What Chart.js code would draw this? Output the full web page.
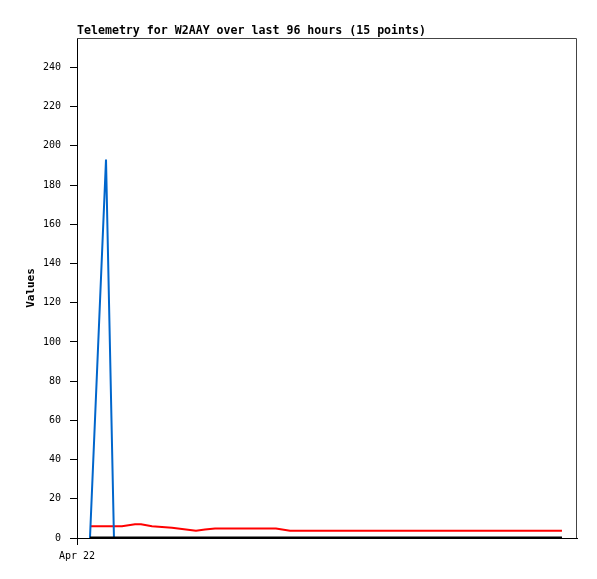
<!DOCTYPE html>
<html>
<head>
<meta charset="utf-8">
<script src="https://cdn.jsdelivr.net/npm/chart.js@4"></script>
<style>
  html, body { margin: 0; padding: 0; background: #fff; }
  #wrap { width: 597px; height: 579px; }
</style>
</head>
<body>
<div id="wrap"><canvas id="telemetry_chart" width="597" height="579"></canvas></div>
<script>
// hours since Apr 22 00:00
var hours = [2.64, 5.90, 7.52, 9.15, 11.80, 13.02, 15.25, 19.32, 24.20, 26.03, 28.07, 40.47, 43.32, 69.76, 98.64];
var blueValues = [0, 193, 0, 0, 0, 0, 0, 0, 0, 0, 0, 0, 0, 0, 0];
var redValues = [6, 6, 6, 6, 7, 7, 6, 5.2, 3.7, 4.3, 4.9, 4.9, 3.7, 3.7, 3.7];
var blackValues = [0, 0, 0, 0, 0, 0, 0, 0, 0, 0, 0, 0, 0, 0, 0];
var yTicks = [0, 20, 40, 60, 80, 100, 120, 140, 160, 180, 200, 220, 240];
var xTickLabels = ['Apr 22'];

function pts(vals) {
  return vals.map(function (v, i) { return { x: hours[i], y: v }; });
}

var chartTitle = 'Telemetry for W2AAY over last 96 hours (15 points)';

var frameAndTitle = {
  id: 'frameAndTitle',
  beforeDatasetsDraw: function (chart) {
    var a = chart.chartArea, c = chart.ctx;
    c.save();
    c.strokeStyle = '#444';
    c.lineWidth = 1;
    c.beginPath();
    c.moveTo(a.left, a.top + 0.5);
    c.lineTo(a.right - 0.5, a.top + 0.5);
    c.lineTo(a.right - 0.5, a.bottom);
    c.stroke();
    c.restore();
  },
  afterDraw: function (chart) {
    var c = chart.ctx;
    c.save();
    c.fillStyle = '#000';
    c.font = 'bold 11.6px "DejaVu Sans Mono"';
    c.textBaseline = 'middle';
    c.textAlign = 'left';
    c.fillText(chartTitle, 77, 31);
    c.restore();
  }
};

var ctx = document.getElementById('telemetry_chart').getContext('2d');

var myChart = new Chart(ctx, {
  type: 'line',
  data: {
    datasets: [
      { label: 'black', data: pts(blackValues), borderColor: '#000', borderWidth: 3 },
      { label: 'blue', data: pts(blueValues), borderColor: '#0066cc', borderWidth: 2 },
      { label: 'red', data: pts(redValues), borderColor: '#ff0000', borderWidth: 2 }
    ]
  },
  options: {
    responsive: false,
    animation: false,
    events: [],
    elements: {
      point: { radius: 0 },
      line: { tension: 0, fill: false }
    },
    layout: { padding: { top: 38, right: 20, left: 0, bottom: 0 } },
    plugins: {
      legend: { display: false },
      tooltip: { enabled: false },
      title: { display: false }
    },
    scales: {
      x: {
        type: 'linear',
        min: 0,
        max: 101.7,
        afterFit: function (s) { s.height = 41; },
        afterBuildTicks: function (s) {
          s.ticks = [{ value: 0 }];
        },
        ticks: {
          color: '#000',
          font: { family: '"DejaVu Sans Mono"', size: 10 },
          padding: 5,
          maxRotation: 0,
          callback: function (v, i) { return xTickLabels[i]; }
        },
        grid: { drawOnChartArea: false, tickLength: 7, color: '#000' },
        border: { color: '#000', width: 1 }
      },
      y: {
        min: 0,
        max: 255,
        afterFit: function (s) { s.width = 77; },
        afterBuildTicks: function (s) {
          s.ticks = yTicks.map(function (v) { return { value: v }; });
        },
        ticks: {
          color: '#000',
          font: { family: '"DejaVu Sans Mono"', size: 10 },
          padding: 9
        },
        grid: { drawOnChartArea: false, tickLength: 7, color: '#000' },
        border: { color: '#000', width: 1 },
        title: {
          display: true,
          text: 'Values',
          color: '#000',
          font: { family: '"DejaVu Sans Mono"', size: 11, weight: 'bold' },
          padding: { top: 25, bottom: 0 }
        }
      }
    }
  },
  plugins: [frameAndTitle]
});
</script>
</body>
</html>
